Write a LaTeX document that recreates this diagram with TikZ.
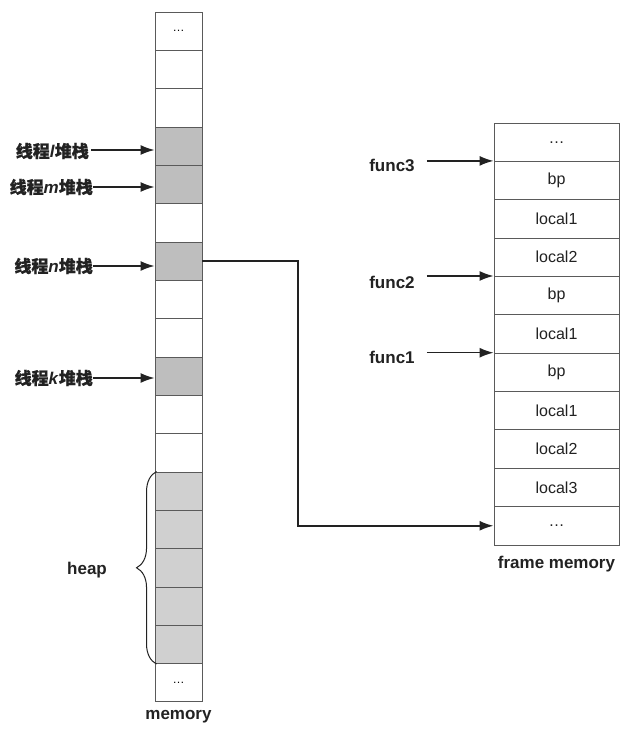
\documentclass[tikz,border=0pt]{standalone}
\usepackage{fontspec}
\setmainfont{Liberation Sans}
\newfontfamily\cjk{Noto Sans CJK SC}[FakeBold=0.8]
\usetikzlibrary{arrows.meta,decorations.pathreplacing}

\definecolor{cellline}{HTML}{5A5A5A}
\definecolor{stackgray}{HTML}{BEBEBE}
\definecolor{heapgray}{HTML}{D0D0D0}
\definecolor{ink}{HTML}{222222}

\newcommand{\thr}[1]{{\cjk\bfseries 线程}\textbf{\textit{#1}}{\cjk\bfseries 堆栈}}
\newcommand{\etcdots}{\ldots}

\begin{document}
\begin{tikzpicture}[x=1pt,y=-1pt,
  memcell/.style={draw=cellline,line width=0.9pt,rectangle,minimum width=47pt,
    minimum height=38.33pt,inner sep=0pt,font=\fontsize{12}{14}\selectfont},
  framecell/.style={draw=cellline,line width=0.9pt,rectangle,minimum width=125pt,
    minimum height=38.36pt,inner sep=0pt,font=\fontsize{16}{19}\selectfont,text=ink},
  stackcell/.style={fill=stackgray},
  heapcell/.style={fill=heapgray},
  lbl/.style={font=\fontsize{17}{20}\selectfont\bfseries,inner sep=0pt,text=ink},
  arr/.style={draw=ink,line width=1.5pt,-{Latex[length=14pt,width=10pt]}},
  conn/.style={draw=ink,line width=1.8pt,-{Latex[length=14pt,width=10pt]}},
  bracestyle/.style={draw=ink,line width=1pt,decorate,
    decoration={brace,amplitude=20pt}}]

\useasboundingbox[fill=white] (0,0) rectangle (625,730);

% memory column: 18 cells
\foreach \i/\st in {0/,1/,2/,3/stackcell,4/stackcell,5/,6/stackcell,7/,8/,
    9/stackcell,10/,11/,12/heapcell,13/heapcell,14/heapcell,15/heapcell,
    16/heapcell,17/}{
  \node[memcell,\st] (m\i) at (178.5,{12+38.33*(\i+0.5)}) {};
}
\node[font=\fontsize{12}{14}\selectfont] (mtop) at (m0) {\etcdots};
\node[font=\fontsize{12}{14}\selectfont] (mbot) at (m17) {\etcdots};
\node[lbl,anchor=north] (memlbl) at (178.5,710) {memory};

% frame memory column: 11 cells
\foreach \i/\t in {0/\etcdots,1/bp,2/local1,3/local2,4/bp,5/local1,6/bp,
    7/local1,8/local2,9/local3,10/\etcdots}{
  \node[framecell] (f\i) at (556.5,{123+38.36*(\i+0.5)}) {\t};
}
\node[lbl,anchor=north] (framelbl) at (556.5,556) {frame memory};

% thread stack labels
\node[lbl,anchor=east] (tl) at (89,151) {\thr{l}};
\node[lbl,anchor=east] (tm) at (93,187) {\thr{m}};
\node[lbl,anchor=east] (tn) at (93,266) {\thr{n}};
\node[lbl,anchor=east] (tk) at (93,378) {\thr{k}};
\draw[arr,shorten <=2pt] (tl.east |- 0,150) -- (m3.west |- 0,150);
\draw[arr] (tm.east) -- (m4.west |- tm.east);
\draw[arr] (tn.east) -- (m6.west |- tn.east);
\draw[arr] (tk.east) -- (m9.west |- tk.east);

% function frame labels
\node[lbl] (fn3) at (392,165) {func3};
\node[lbl] (fn2) at (392,282) {func2};
\node[lbl] (fn1) at (392,357) {func1};
\draw[arr] (fn3.east |- f1.north west) ++(12,0) -- (f1.north west);
\draw[arr] (fn2.east |- f4.north west) ++(12,0) -- (f4.north west);
\draw[arr] (fn1.east |- f6.north west) ++(12,0) -- (f6.north west);

% thread n stack expanded into frame memory
\coordinate (bend) at (298,400);
\draw[conn] (m6.east) -- (m6.east -| bend) -- (bend |- f10.west) -- (f10.west);

% heap brace
\draw[bracestyle] (m16.south west) ++(2,0) -- ([xshift=2pt]m12.north west);
\node[lbl] (heaplbl) at (87,570) {heap};

\end{tikzpicture}
\end{document}
